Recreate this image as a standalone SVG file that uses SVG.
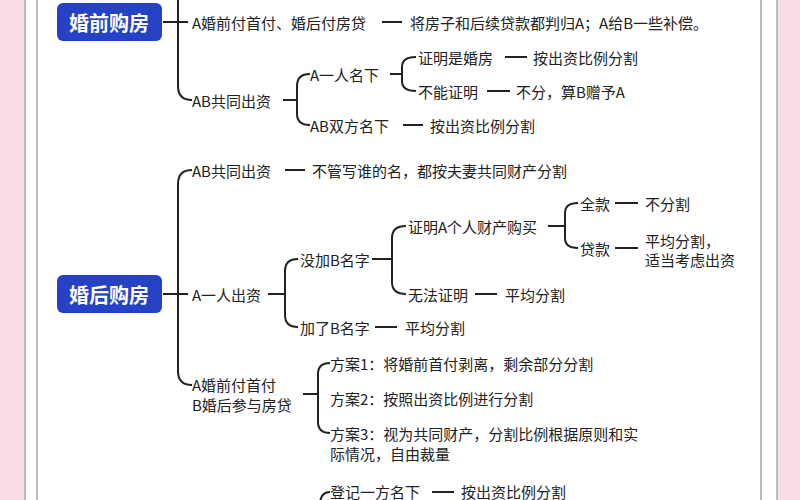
<svg xmlns="http://www.w3.org/2000/svg" width="800" height="500" viewBox="0 0 800 500">
<style>
text{font-family:"Noto Sans CJK SC","Noto Sans",sans-serif;font-size:15px;fill:#222;dominant-baseline:central}
.t{fill:#fff;font-size:20px;font-weight:bold;text-anchor:middle}
.c path,.c line{stroke:#222;stroke-width:2;fill:none}
</style>
<rect width="800" height="500" fill="#f9dbe6"/>
<rect x="25" y="-5" width="752" height="510" fill="#fff" stroke="#bbb" stroke-width="2"/>
<rect x="37" y="-5" width="724" height="510" fill="#fff" stroke="#bbb" stroke-width="2"/>
<g class="c" id="connectors">
<path d="M163 22H178M178 0V86Q178 100 192 100M178 10V22H188"/>
<path d="M382 22H402"/>
<path d="M283 100H297M310 74Q297 74 297 86V114Q297 125 310 125"/>
<path d="M390 74H402M416 57Q402 57 402 67V81Q402 91 416 91"/>
<path d="M505 57H527M487 91H510M403 125H423"/>
<path d="M192 170Q178 170 178 184V371Q178 385 192 385M163 294H188"/>
<path d="M285 170H305"/>
<path d="M268 294H285M298 259Q285 259 285 271V315Q285 327 298 327"/>
<path d="M372 259H392M406 226Q392 226 392 238V282Q392 294 406 294"/>
<path d="M548 226H565M578 203Q565 203 565 213V238Q565 248 578 248"/>
<path d="M615 203H638M615 248H638M475 294H497M375 327H397"/>
<path d="M303 394H318M330 363Q318 363 318 374V422Q318 433 330 433"/>
<path d="M330 492Q320 492 320 505"/>
<path d="M432 492H454"/>
</g>
<g id="n1"><rect x="57" y="3" width="105" height="38" rx="6" fill="#2541c4"/><text class="t" x="109" y="22">婚前购房</text></g>
<g id="n2"><rect x="57" y="275" width="105" height="38" rx="6" fill="#2541c4"/><text class="t" x="109" y="294">婚后购房</text></g>
<g id="texts">
<text x="192" y="22">A婚前付首付、婚后付房贷</text>
<text x="410" y="22">将房子和后续贷款都判归A；A给B一些补偿。</text>
<text x="192" y="100">AB共同出资</text>
<text x="310" y="74">A一人名下</text>
<text x="418" y="57">证明是婚房</text>
<text x="533" y="57">按出资比例分割</text>
<text x="418" y="91">不能证明</text>
<text x="516" y="91">不分，算B赠予A</text>
<text x="310" y="125">AB双方名下</text>
<text x="430" y="125">按出资比例分割</text>
<text x="192" y="170">AB共同出资</text>
<text x="312" y="170">不管写谁的名，都按夫妻共同财产分割</text>
<text x="192" y="294">A一人出资</text>
<text x="300" y="259">没加B名字</text>
<text x="408" y="226">证明A个人财产购买</text>
<text x="580" y="203">全款</text>
<text x="645" y="203">不分割</text>
<text x="580" y="248">贷款</text>
<text x="645" y="240">平均分割，</text>
<text x="645" y="259">适当考虑出资</text>
<text x="408" y="294">无法证明</text>
<text x="505" y="294">平均分割</text>
<text x="300" y="327">加了B名字</text>
<text x="405" y="327">平均分割</text>
<text x="192" y="384">A婚前付首付</text>
<text x="192" y="404">B婚后参与房贷</text>
<text x="330" y="363">方案1：将婚前首付剥离，剩余部分分割</text>
<text x="330" y="398">方案2：按照出资比例进行分割</text>
<text x="330" y="433">方案3：视为共同财产，分割比例根据原则和实</text>
<text x="330" y="453">际情况，自由裁量</text>
<text x="330" y="491">登记一方名下</text>
<text x="461" y="491">按出资比例分割</text>
</g>
</svg>
